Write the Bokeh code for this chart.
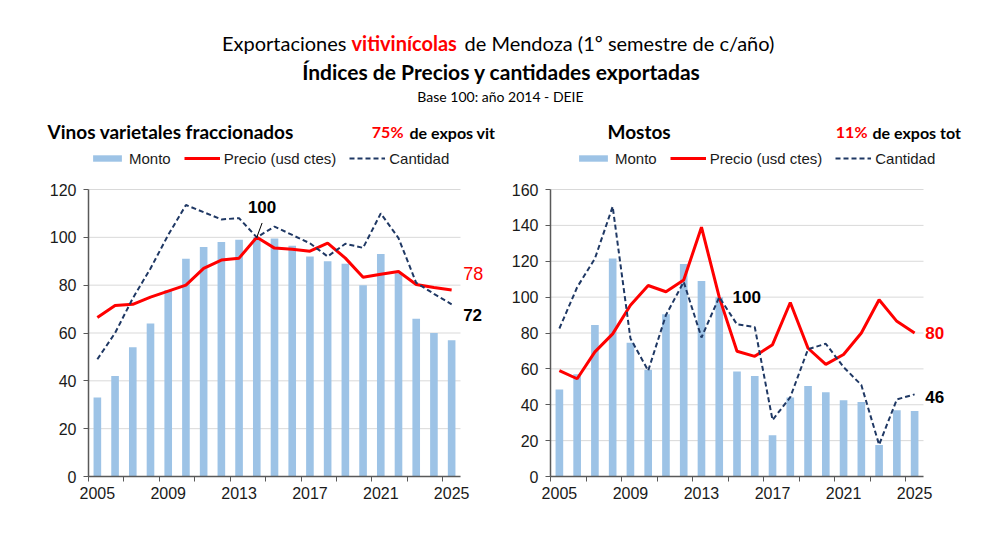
import numpy as np
from bokeh.plotting import figure
from bokeh.models import Range1d, FixedTicker, Label, Legend, LegendItem
from bokeh.layouts import column, row
from bokeh.embed import file_html
from bokeh.resources import INLINE

# indices, base 100 = 2014 (1er semestre de c/año)
years = [2005, 2006, 2007, 2008, 2009, 2010, 2011, 2012, 2013, 2014, 2015,
         2016, 2017, 2018, 2019, 2020, 2021, 2022, 2023, 2024, 2025]
year_labels = [2005, 2009, 2013, 2017, 2021, 2025]

# Vinos varietales fraccionados
vinos_monto = [33, 42, 54, 64, 78, 91, 96, 98, 99, 100, 99.5,
               96.5, 92, 90, 89, 80, 93, 85, 66, 60, 57]
vinos_precio = [66.5, 71.5, 72, 75, 77.5, 80, 87, 90.5, 91.3, 100, 95.5,
                95, 94.2, 97.6, 91.3, 83.3, 84.6, 85.7, 80.3, 79, 78]
vinos_cantidad = [49, 60, 74.5, 87, 101, 113.5, 110.5, 107.5, 108, 100, 104.5,
                  101, 97.5, 92, 97.3, 95.6, 110, 99.7, 81, 76.4, 72]

# Mostos
mostos_monto = [48.5, 57, 84.5, 121.5, 74.5, 59.5, 90.5, 118.5, 109, 100, 58.5,
                56, 23, 44, 50.5, 47, 42.5, 41.5, 17.5, 37, 36.5]
mostos_precio = [59, 54.5, 69.5, 79.5, 95.5, 106.5, 103, 109.5, 139, 100, 69.8,
                 67, 73.5, 97, 71.5, 62.5, 68, 80, 98.5, 86.5, 80]
mostos_cantidad = [82.5, 105.5, 121.5, 150.5, 77, 59, 90, 108.5, 77.5, 100, 84.8,
                   83.3, 31.5, 44.2, 71, 74, 61, 51, 17.7, 43, 45.8]

BAR = "#9dc3e6"
RED = "#ff0000"
NAVY = "#1f3864"
AXIS = "#595959"
TICK_FONT = "Liberation Sans"
TITLE_FONT = "Lato"

PLOT_H = 287     # height of the 0..max area
TOP_ROOM = 45    # room above it for the legend
HEAD_H = 144
LEG_H = 18
N_CAT = len(years)


def make_panel(monto, precio, cantidad, y_max, left, plot_w, extra_w, legend_x):
    # frame is larger than the plotted area so that legend and end labels fit in it
    px_x = plot_w / N_CAT
    px_y = PLOT_H / y_max
    x0, x1 = years[0] - 0.5, years[-1] + 0.5
    p = figure(frame_width=plot_w + extra_w, frame_height=PLOT_H + TOP_ROOM,
               x_range=Range1d(x0, x1 + extra_w / px_x),
               y_range=Range1d(0, y_max + TOP_ROOM / px_y),
               output_backend="svg", toolbar_location=None,
               min_border_left=left, min_border_right=0,
               min_border_top=0, min_border_bottom=34)
    p.outline_line_color = None
    p.grid.visible = False

    y_ticks = list(range(0, y_max + 1, 20))
    p.segment(x0=[x0] * len(y_ticks), y0=y_ticks, x1=[x1] * len(y_ticks), y1=y_ticks,
              line_color="#d9d9d9", line_width=1)

    bars = p.vbar(x=years, top=monto, width=0.43, fill_color=BAR, line_color=None)
    lp = p.line(years, precio, line_color=RED, line_width=3)
    lc = p.line(years, cantidad, line_color=NAVY, line_width=2, line_dash="5 3")

    p.xaxis.bounds = (x0, x1)
    p.xaxis.ticker = FixedTicker(ticks=year_labels, minor_ticks=[y - 0.5 for y in years[::2]])
    p.xaxis.major_tick_line_color = None
    p.xaxis.major_tick_out = 0
    p.xaxis.major_tick_in = 0
    p.xaxis.minor_tick_line_color = AXIS
    p.xaxis.minor_tick_out = 5
    p.xaxis.minor_tick_in = 0
    p.xaxis.major_label_standoff = 5

    p.yaxis.bounds = (0, y_max)
    p.yaxis.ticker = FixedTicker(ticks=y_ticks)
    p.yaxis.major_tick_line_color = AXIS
    p.yaxis.major_tick_out = 5
    p.yaxis.major_tick_in = 0
    p.yaxis.minor_tick_line_color = None
    p.yaxis.major_label_standoff = 7

    for ax in (p.xaxis, p.yaxis):
        ax.axis_line_color = AXIS
        ax.axis_line_width = 1.5
        ax.major_label_text_font = TICK_FONT
        ax.major_label_text_font_size = "16px"
        ax.major_label_text_color = "#1a1a1a"

    # legend centred about 31px above the 0..max area
    legend = Legend(items=[LegendItem(label="Monto", renderers=[bars]),
                           LegendItem(label="Precio (usd ctes)", renderers=[lp]),
                           LegendItem(label="Cantidad", renderers=[lc])],
                    orientation="horizontal",
                    location=(legend_x, PLOT_H + 31 - LEG_H // 2),
                    glyph_width=36, glyph_height=8, label_height=LEG_H,
                    padding=0, margin=0, spacing=13, label_standoff=4,
                    border_line_color=None, background_fill_alpha=0,
                    label_text_font=TICK_FONT,
                    label_text_font_size="15px", label_text_color="#1a1a1a")
    p.add_layout(legend)
    return p


def note(p, x, y, text, color="#000000", bold=True, size="17px", align="left"):
    p.add_layout(Label(x=x, y=y, text=text, text_align=align, text_baseline="middle",
                       text_font=TICK_FONT, text_color=color, text_font_size=size,
                       text_font_style="bold" if bold else "normal"))


left = make_panel(vinos_monto, vinos_precio, vinos_cantidad, 120, 88, 372, 40, 1)
right = make_panel(mostos_monto, mostos_precio, mostos_cantidad, 160, 50, 373, 69, 25)

# leader line + base label for 2014
i14 = years.index(2014)
left.segment(x0=[years[i14]], y0=[vinos_precio[i14]], x1=[years[i14] + 0.3], y1=[vinos_precio[i14] + 6],
             line_color="#000000", line_width=1)
note(left, years[i14] + 0.3, vinos_precio[i14] + 12.5, "100", align="center")
note(right, years[i14] + 0.75, mostos_cantidad[i14], "100")

# end-of-series labels
note(left, years[-1] + 0.65, vinos_precio[-1] + 7, f"{vinos_precio[-1]:.0f}",
     color=RED, bold=False, size="18px")
note(left, years[-1] + 0.65, vinos_cantidad[-1] - 4.3, f"{vinos_cantidad[-1]:.0f}")
note(right, years[-1] + 0.6, mostos_precio[-1], f"{mostos_precio[-1]:.0f}", color=RED)
note(right, years[-1] + 0.6, mostos_cantidad[-1] - 1.5, f"{mostos_cantidad[-1]:.0f}")

# header with titles (coordinates are pixels from the page's top-left)
head = figure(width=992, height=HEAD_H, x_range=Range1d(0, 992), y_range=Range1d(HEAD_H, 0),
              x_axis_type=None, y_axis_type=None, output_backend="svg",
              toolbar_location=None, min_border=0)
head.outline_line_color = None
head.grid.visible = False


def htext(x, y, text, size, bold=False, color="#000000", align="center"):
    head.add_layout(Label(x=x, y=y, text=text, text_align=align, text_baseline="middle",
                          text_font=TITLE_FONT, text_font_size=size, text_color=color,
                          text_font_style="bold" if bold else "normal"))


htext(346, 42, "Exportaciones", "20px", align="right")
htext(351, 42, "vitivinícolas", "20px", bold=True, color=RED, align="left")
htext(464, 42, "de Mendoza (1º semestre de c/año)", "20px", align="left")
htext(501, 71, "Índices de Precios y cantidades exportadas", "21px", bold=True)
htext(500, 96, "Base 100: año 2014 - DEIE", "14px")

htext(47, 131, "Vinos varietales fraccionados", "19px", bold=True, align="left")
htext(403, 131, "75%", "16px", bold=True, color=RED, align="right")
htext(409, 132, "de expos vit", "16px", bold=True, align="left")
htext(607, 131, "Mostos", "19px", bold=True, align="left")
htext(867, 131, "11%", "16px", bold=True, color=RED, align="right")
htext(872, 132, "de expos tot", "16px", bold=True, align="left")

page = column(head, row(left, right, spacing=0), spacing=0)
open("out.html", "w").write(file_html(page, INLINE))
